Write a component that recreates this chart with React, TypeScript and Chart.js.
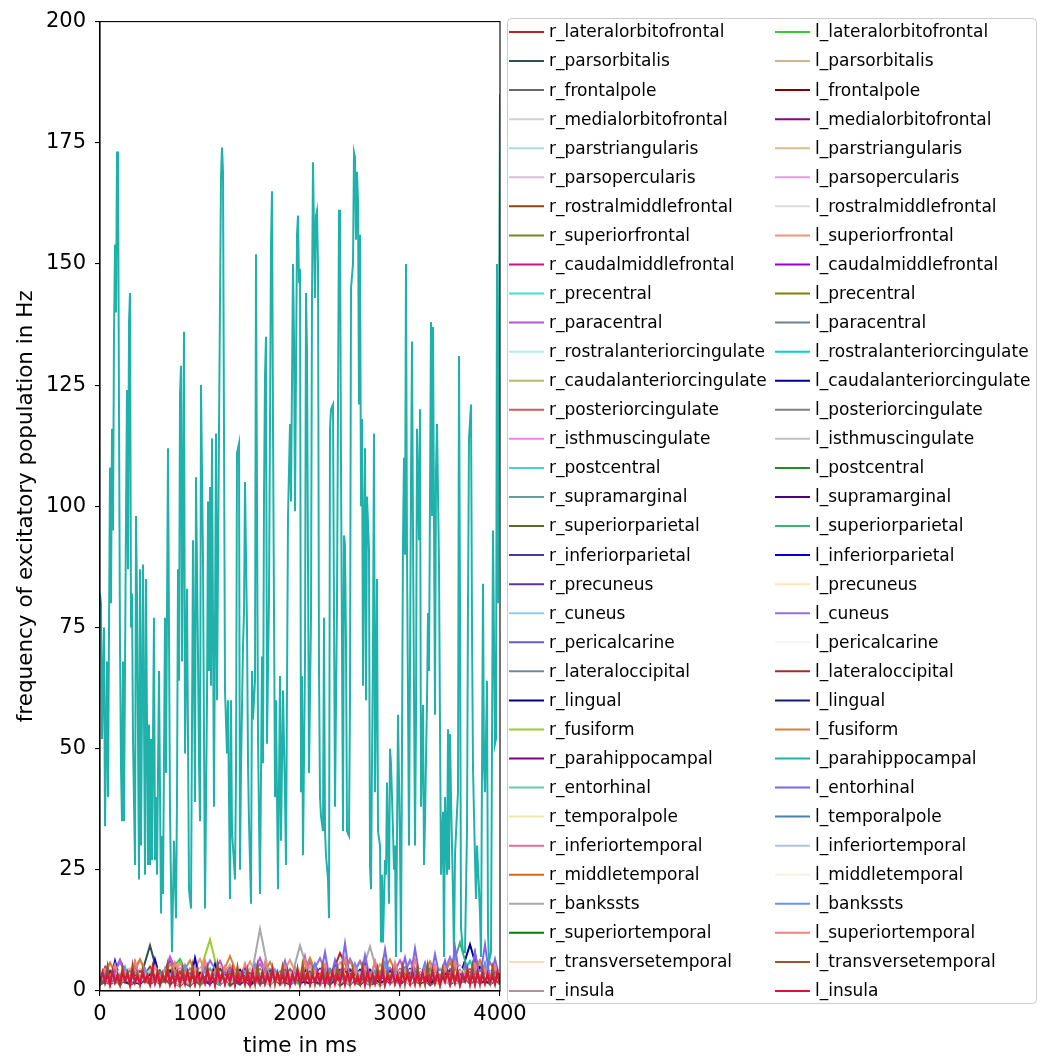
import React, { useEffect, useRef } from "react";
import { Chart, registerables } from "chart.js";

Chart.register(...registerables);

// ---------------- data ----------------
const DURATION_MS = 4000;
const X_TICKS = [0, 1000, 2000, 3000, 4000];
const Y_TICKS = [0, 25, 50, 75, 100, 125, 150, 175, 200];

const R_NAMES = [
  "r_lateralorbitofrontal", "r_parsorbitalis", "r_frontalpole", "r_medialorbitofrontal", "r_parstriangularis",
  "r_parsopercularis", "r_rostralmiddlefrontal", "r_superiorfrontal", "r_caudalmiddlefrontal", "r_precentral",
  "r_paracentral", "r_rostralanteriorcingulate", "r_caudalanteriorcingulate", "r_posteriorcingulate", "r_isthmuscingulate",
  "r_postcentral", "r_supramarginal", "r_superiorparietal", "r_inferiorparietal", "r_precuneus",
  "r_cuneus", "r_pericalcarine", "r_lateraloccipital", "r_lingual", "r_fusiform",
  "r_parahippocampal", "r_entorhinal", "r_temporalpole", "r_inferiortemporal", "r_middletemporal",
  "r_bankssts", "r_superiortemporal", "r_transversetemporal", "r_insula",
];
const L_NAMES = R_NAMES.map((n) => "l_" + n.slice(2));

const R_COLORS = [
  "#b22222", "#2f4f4f", "#696969", "#d3d3d3", "#add8e6", "#d8bfd8", "#8b4513", "#6b8e23", "#c71585", "#40e0d0",
  "#ba55d3", "#afeeee", "#bdb76b", "#cd5c5c", "#ee82ee", "#48d1cc", "#5f9ea0", "#556b2f", "#483d8b", "#663399",
  "#87cefa", "#6a5acd", "#778899", "#000080", "#9acd32", "#800080", "#66cdaa", "#eee8aa", "#db7093", "#d2691e",
  "#a9a9a9", "#008000", "#f5deb3", "#bc8f8f",
];
const L_COLORS = [
  "#32cd32", "#d2b48c", "#800000", "#8b008b", "#deb887", "#dda0dd", "#dcdcdc", "#e9967a", "#9400d3", "#808000",
  "#708090", "#00ced1", "#00008b", "#808080", "#c0c0c0", "#228b22", "#4b0082", "#3cb371", "#0000cd", "#ffe4b5",
  "#9370db", "#f5f5f5", "#a52a2a", "#191970", "#cd853f", "#20b2aa", "#7b68ee", "#4682b4", "#b0c4de", "#f5f5dc",
  "#6495ed", "#f08080", "#a0522d", "#dc143c",
];

// right hemisphere (Hz, evenly sampled over 0..4000 ms)
const r_lateralorbitofrontal = [2.1,3.4,1.2,4.0,2.6,1.5,3.8,2.2,1.0,3.1,2.7,1.4,4.2,2.0,3.3,1.1,2.9,3.6,1.8,2.4,4.1,1.6,3.0,2.5,7.8,3.7,2.2,1.3,1.9,3.2,2.8,1.4,3.5,2.1,4.4,1.7,2.6,3.9,1.5,2.8,2.0];
const r_parsorbitalis = [1.5,2.8,3.9,1.2,2.4,9.4,1.8,3.1,2.2,1.0,3.6,2.5,1.4,2.9,3.3,1.6,2.0,4.1,1.3,2.7,3.0,1.9,2.3,3.8,1.1,2.6,3.4,1.7,2.1,4.5,1.5,2.9,3.2,1.2,2.5,3.7,1.8,2.2,3.0,1.4,2.6];
const r_frontalpole = [3.0,1.4,2.5,3.6,1.9,2.2,4.0,1.3,2.8,3.3,1.6,2.4,3.9,1.0,2.7,3.1,1.8,2.3,3.5,1.2,2.9,4.2,1.5,2.0,3.4,1.7,2.6,3.8,1.1,2.4,3.0,1.9,2.2,4.3,1.4,2.8,3.2,1.6,2.5,3.6,1.3];
const r_medialorbitofrontal = [2.4,3.9,1.6,2.7,4.6,1.3,3.1,2.0,4.4,1.8,2.6,3.5,1.2,3.0,4.8,1.5,2.3,3.7,1.9,2.8,4.1,1.4,3.3,2.1,4.5,1.7,2.9,3.6,1.2,2.5,4.0,1.8,3.2,2.2,4.7,1.5,2.7,3.4,1.9,3.8,2.2];
const r_parstriangularis = [1.8,2.6,4.3,1.5,3.2,2.4,1.9,3.8,2.9,1.4,4.1,2.2,3.0,1.7,3.6,2.5,1.3,4.4,2.0,3.1,1.6,3.9,2.7,1.2,3.4,2.3,4.0,1.8,2.9,3.5,1.5,2.6,4.2,1.9,3.0,2.4,1.4,3.7,2.8,1.6,3.3];
const r_parsopercularis = [3.3,1.7,2.9,4.0,1.4,2.5,3.6,2.0,1.2,3.9,2.7,1.8,4.3,2.2,3.1,1.5,2.8,3.7,1.3,2.4,4.1,1.9,3.0,2.6,1.6,3.5,2.1,4.4,1.7,2.9,3.2,1.4,2.3,3.8,2.0,1.5,4.0,2.7,3.3,1.8,2.5];
const r_rostralmiddlefrontal = [2.6,4.2,1.9,3.4,2.1,5.0,1.6,3.0,4.6,2.3,1.5,3.8,2.7,4.9,1.8,3.2,2.4,4.3,1.4,3.6,2.9,5.2,1.7,3.1,2.2,4.5,1.9,3.7,2.5,4.1,1.6,3.3,2.8,4.7,1.5,3.0,2.3,4.4,2.0,3.5,2.6];
const r_superiorfrontal = [1.9,3.1,2.4,1.3,3.7,2.0,4.2,1.6,2.8,3.4,1.2,2.6,3.9,1.8,2.3,4.5,1.5,3.0,2.2,3.6,1.4,2.7,4.0,1.9,3.2,2.1,1.3,3.8,2.5,4.3,1.7,2.9,3.5,1.4,2.4,3.1,5.2,1.8,2.6,3.3,2.0];
const r_caudalmiddlefrontal = [2.2,1.5,3.6,2.8,4.4,1.7,2.5,3.2,1.3,4.0,2.1,3.5,1.9,2.7,4.6,1.4,3.0,2.4,3.9,1.6,2.2,4.1,1.8,3.4,2.6,1.2,3.7,2.3,4.2,1.5,3.1,2.8,1.7,3.9,2.0,4.5,1.6,3.3,2.4,1.9,3.0];
const r_precentral = [1.4,2.8,3.5,1.9,2.3,4.0,1.6,3.1,2.5,1.2,3.8,2.0,2.9,4.3,1.5,2.6,3.3,1.8,4.1,2.2,1.3,3.6,2.7,1.9,4.4,2.1,3.0,1.6,3.4,2.5,1.4,3.9,2.3,1.7,3.2,2.8,4.2,1.5,2.6,3.7,2.0];
const r_paracentral = [3.1,2.0,6.5,1.6,2.9,3.4,1.3,7.1,2.4,3.7,1.8,2.6,6.2,1.5,3.3,2.1,6.8,1.9,2.7,3.5,1.4,6.0,2.3,3.1,1.7,6.6,2.5,1.2,3.8,2.2,6.3,1.6,3.0,2.8,1.5,6.1,2.0,3.6,1.8,2.9,3.2];
const r_rostralanteriorcingulate = [2.5,3.8,1.6,2.9,4.1,2.2,1.4,3.3,2.7,4.4,1.9,3.0,2.1,1.5,3.9,2.6,4.2,1.8,3.1,2.4,1.3,3.7,2.8,4.5,1.7,2.3,3.4,2.0,4.0,1.5,2.9,3.6,1.9,2.5,4.3,1.4,3.2,2.2,3.8,1.6,2.7];
const r_caudalanteriorcingulate = [1.7,2.4,3.2,4.6,1.5,2.8,3.9,1.9,2.3,3.5,1.2,4.2,2.6,3.0,1.6,2.1,4.4,2.9,1.4,3.6,2.5,1.8,3.3,4.0,2.0,1.5,3.8,2.7,1.3,4.1,2.2,3.4,1.9,2.6,3.1,1.6,4.3,2.4,1.8,3.5,2.1];
const r_posteriorcingulate = [3.4,1.9,2.7,1.4,3.8,2.5,4.2,1.7,3.0,2.2,4.6,1.5,2.9,3.6,1.8,2.4,3.9,1.3,3.2,2.7,4.4,2.0,1.6,3.5,2.3,3.9,1.4,2.8,3.3,1.9,4.1,2.4,1.5,3.7,2.6,3.0,1.7,4.5,2.1,2.9,3.4];
const r_isthmuscingulate = [2.0,3.3,1.5,4.4,2.6,1.9,3.1,2.4,6.0,1.7,3.6,2.2,1.4,4.0,2.8,3.4,1.6,2.5,4.3,1.9,3.0,2.2,1.3,3.8,2.7,4.1,1.8,2.4,3.5,1.5,2.9,4.2,2.0,3.2,1.7,2.6,3.9,1.4,3.1,2.3,1.9];
const r_postcentral = [1.6,2.9,3.7,2.1,1.4,3.3,2.6,4.0,1.8,2.4,3.1,1.5,4.3,2.7,1.9,3.5,2.2,1.3,3.9,2.8,1.7,3.2,4.2,2.0,2.5,1.4,3.6,2.9,1.8,4.1,2.3,3.0,1.6,2.6,3.8,1.9,2.2,3.4,1.5,2.8,3.6];
const r_supramarginal = [2.9,1.8,3.5,2.3,4.1,1.6,2.7,3.3,1.4,2.5,3.9,2.1,1.7,3.6,2.8,4.4,1.5,2.2,3.1,1.9,3.7,2.6,1.3,4.0,2.4,3.2,1.8,2.9,3.8,1.6,2.3,4.3,2.0,2.7,1.5,3.4,2.5,4.1,1.7,3.0,2.2];
const r_superiorparietal = [1.3,2.5,3.8,1.7,3.0,2.2,4.3,1.5,2.8,3.5,1.9,2.4,1.2,3.9,2.6,3.2,1.6,4.0,2.1,2.9,1.4,3.6,2.3,3.1,1.8,4.2,2.5,1.6,3.3,2.0,3.7,1.4,2.7,3.9,1.8,2.2,3.4,1.5,2.9,3.8,2.1];
const r_inferiorparietal = [2.4,3.6,1.8,2.9,1.5,4.0,2.7,1.9,3.4,2.2,4.5,1.6,3.0,2.5,1.3,3.8,2.1,3.3,1.7,4.2,2.6,1.9,3.5,2.3,1.5,4.1,2.8,3.0,1.6,2.4,3.7,1.9,4.4,2.2,3.1,1.4,2.6,3.9,2.0,1.7,3.2];
const r_precuneus = [3.0,2.1,1.6,3.7,2.5,4.2,1.8,2.9,3.5,1.4,2.3,4.0,2.7,1.9,3.3,2.4,1.5,4.4,2.2,3.1,1.7,3.6,2.6,1.3,3.9,2.0,2.8,4.1,1.6,3.4,2.3,1.9,3.8,2.5,1.4,3.2,4.3,2.1,2.7,1.8,3.5];
const r_cuneus = [1.9,3.2,2.6,4.5,1.5,2.8,3.6,2.1,1.7,4.1,2.4,3.0,1.4,3.8,2.2,4.6,1.8,2.5,3.4,1.6,2.9,4.3,2.0,3.1,1.5,3.7,2.7,1.9,4.2,2.3,3.3,1.6,2.8,4.0,2.1,1.7,3.5,2.6,4.4,1.8,2.4];
const r_pericalcarine = [2.7,1.6,3.9,2.2,3.3,1.4,2.8,4.3,1.9,2.5,3.6,1.7,4.1,2.3,3.0,1.5,2.6,3.8,2.0,4.5,1.8,2.4,3.2,1.6,4.0,2.9,1.3,3.5,2.2,4.7,1.9,3.1,2.5,1.5,3.9,2.8,4.2,1.7,3.3,2.4,2.0];
const r_lateraloccipital = [1.5,2.6,3.3,1.9,4.0,2.4,1.7,3.6,2.9,1.3,3.1,2.2,4.4,1.8,2.7,3.5,1.5,2.3,3.9,2.0,1.6,3.4,2.8,4.1,1.9,2.5,3.0,1.4,3.7,2.6,4.3,1.7,2.2,3.5,1.9,2.9,3.8,1.6,2.4,3.2,1.8];
const r_lingual = [2.3,3.7,1.9,2.6,4.2,1.5,3.1,2.4,1.8,3.9,2.7,4.6,1.6,2.9,3.3,1.4,2.5,4.0,2.1,3.5,1.7,2.8,3.9,1.5,3.2,2.3,4.4,1.8,2.6,3.6,1.4,3.0,2.2,4.1,1.9,2.7,3.4,1.6,5.0,2.5,3.1];
const r_fusiform = [1.8,2.7,3.4,1.5,2.9,4.1,2.2,1.6,3.6,2.4,4.0,10.6,2.0,3.1,1.7,2.6,3.8,1.9,2.4,3.3,1.5,4.2,2.8,1.8,3.5,2.1,2.9,4.4,1.6,3.0,2.5,1.9,3.7,2.3,1.4,3.2,2.7,4.0,1.8,2.6,3.3];
const r_parahippocampal = [2.6,1.7,3.5,2.2,4.3,1.9,2.8,6.0,1.6,3.2,2.4,1.5,3.9,2.7,4.2,1.8,2.3,3.4,1.5,2.9,4.0,2.1,3.3,1.7,2.5,3.8,1.4,2.9,3.6,2.0,4.5,1.6,2.7,3.1,1.9,2.4,3.9,1.5,3.0,2.6,1.8];
const r_entorhinal = [3.2,2.0,1.5,3.7,2.6,3.1,1.8,4.2,2.4,1.6,3.4,2.9,1.3,4.0,2.2,3.6,1.7,2.7,3.9,1.5,2.5,4.4,2.0,3.0,1.8,3.5,2.6,1.4,4.1,2.3,3.2,1.9,2.8,3.6,1.6,4.3,2.1,2.9,1.7,3.4,2.5];
const r_temporalpole = [1.6,3.0,4.4,2.3,1.9,3.5,2.6,5.2,1.4,2.8,3.3,2.0,4.1,1.7,3.6,2.5,1.5,3.9,2.2,4.6,1.8,2.7,3.2,1.6,4.0,2.4,3.1,1.9,4.3,2.2,1.5,3.7,2.8,1.8,4.5,2.1,3.4,1.7,2.9,3.8,2.0];
const r_inferiortemporal = [2.9,2.2,3.6,1.7,4.3,2.5,1.9,3.2,4.6,1.5,2.7,3.8,2.1,3.4,1.6,4.4,2.4,2.9,1.8,3.9,2.6,1.4,4.2,3.0,2.3,1.9,3.7,2.7,4.5,1.6,3.1,2.2,4.0,1.8,2.6,3.5,1.5,4.3,2.4,3.0,2.1];
const r_middletemporal = [2.0,3.5,2.7,4.4,1.6,3.0,2.3,3.9,1.8,4.7,2.5,1.9,3.4,2.6,4.1,1.5,3.2,2.8,1.7,4.5,2.2,3.7,1.9,2.9,4.2,1.6,3.3,2.4,4.8,1.8,2.7,3.6,2.1,4.0,1.5,3.1,2.6,4.3,1.9,3.5,2.4];
const r_bankssts = [2.2,3.4,1.8,4.0,2.5,1.6,3.7,2.9,1.4,4.3,2.1,3.2,1.9,2.6,3.8,1.5,12.8,2.4,3.1,1.7,9.4,2.8,3.6,2.0,1.5,4.2,2.6,9.2,1.8,3.3,2.4,3.9,1.6,2.9,4.5,2.1,3.0,1.7,3.6,2.5,1.9];
const r_superiortemporal = [1.4,2.3,3.1,1.8,2.6,3.7,1.5,2.9,2.0,3.4,1.6,2.5,3.9,1.3,2.8,2.2,3.6,1.7,2.4,3.2,1.5,2.9,4.0,1.9,2.1,3.5,1.4,2.7,3.3,1.8,2.5,3.8,1.6,2.3,3.0,1.5,2.8,3.6,2.0,1.7,2.6];
const r_transversetemporal = [2.8,1.9,3.6,2.4,4.5,1.7,3.0,2.6,4.1,1.5,3.4,2.1,3.8,1.8,2.9,4.6,2.2,1.6,3.5,2.7,4.3,1.9,3.1,2.4,1.6,4.0,2.8,3.3,1.7,4.4,2.3,1.9,3.7,2.6,4.2,1.8,3.0,2.5,1.5,3.9,2.7];
const r_insula = [1.7,2.8,3.9,2.2,1.5,3.3,2.6,4.4,1.9,2.4,3.6,1.6,4.1,2.9,2.1,3.5,1.8,4.6,2.5,1.4,3.2,2.7,4.0,1.9,3.4,2.2,1.7,3.8,2.6,4.3,1.5,3.0,2.4,3.7,1.9,2.8,4.2,1.6,3.1,2.3,3.5];

// left hemisphere
const l_lateralorbitofrontal = [1.5,2.4,3.6,1.9,2.8,3.2,1.6,4.1,6.6,2.2,3.0,1.7,2.5,3.9,1.4,2.7,3.4,1.8,2.3,4.2,1.6,2.9,3.5,2.0,1.5,3.8,2.6,1.9,3.1,2.4,4.0,1.7,2.8,3.3,1.5,2.5,3.7,2.1,1.8,3.0,2.4];
const l_parsorbitalis = [3.1,1.8,2.6,4.3,2.2,3.5,1.6,2.9,3.8,1.9,2.4,4.6,1.7,3.2,2.5,4.0,1.5,2.8,3.6,2.1,4.4,1.8,3.0,2.3,3.9,1.6,2.7,4.2,2.0,3.3,1.7,2.5,4.5,1.9,3.1,2.4,3.7,1.5,2.9,4.1,2.2];
const l_frontalpole = [2.1,3.3,1.6,2.7,3.9,2.0,4.4,1.7,2.5,3.1,1.4,3.7,2.3,2.9,4.1,1.8,2.4,3.5,1.5,3.0,2.6,4.2,1.9,2.2,3.6,1.6,2.8,3.3,1.5,4.0,2.1,2.7,3.8,1.9,2.4,3.2,1.6,4.3,2.2,2.9,1.8];
const l_medialorbitofrontal = [2.7,1.6,3.8,2.3,3.1,1.8,4.5,2.5,1.5,3.4,2.9,1.9,4.0,2.2,3.6,1.6,2.6,3.9,2.0,1.4,3.3,2.8,4.6,1.8,2.4,3.5,1.7,3.0,2.2,4.2,1.5,2.9,3.6,1.9,2.5,4.1,2.0,3.2,1.6,2.7,3.8];
const l_parstriangularis = [1.9,3.0,2.4,4.6,1.7,2.8,3.5,2.1,4.1,1.5,3.2,2.6,5.0,1.8,2.9,3.7,2.2,1.6,4.3,2.5,3.1,1.9,3.8,2.4,1.5,4.0,2.7,3.4,1.8,2.3,4.4,2.0,3.0,1.6,3.6,2.8,1.9,4.2,2.5,3.3,2.0];
const l_parsopercularis = [2.4,1.7,3.2,2.8,4.0,1.9,2.5,3.6,1.5,4.3,2.2,3.0,1.8,2.7,3.9,1.6,4.5,2.3,2.9,1.9,3.4,2.6,1.5,4.1,2.1,3.7,1.8,2.8,3.3,1.6,2.4,4.6,2.0,3.1,1.7,3.8,2.5,1.9,4.0,2.3,2.9];
const l_rostralmiddlefrontal = [3.5,2.1,4.0,1.7,2.9,3.3,1.9,2.4,4.4,1.6,3.1,2.7,1.8,3.9,2.3,4.2,1.5,2.8,3.6,2.0,1.7,3.4,2.5,4.5,1.9,2.6,3.2,1.6,4.0,2.2,3.7,1.8,2.9,3.5,1.5,2.4,4.3,2.1,3.0,1.9,2.6];
const l_superiorfrontal = [2.2,5.6,2.8,1.9,6.3,2.4,3.1,1.6,5.8,2.9,6.6,1.8,2.5,5.4,2.1,6.1,1.7,3.0,2.6,6.4,1.9,5.3,2.3,1.6,5.9,2.8,6.2,2.0,5.5,1.8,2.7,6.0,2.3,5.2,1.6,6.5,2.5,2.9,5.7,1.9,3.1];
const l_caudalmiddlefrontal = [1.6,2.9,3.4,2.0,1.5,3.7,2.4,4.2,1.8,3.1,2.6,1.4,3.9,2.3,4.4,1.7,2.8,3.3,1.9,2.5,4.0,1.6,3.2,2.7,1.5,4.3,2.1,3.0,1.8,3.6,2.4,4.1,1.7,2.9,3.5,2.2,1.6,3.8,2.6,4.0,2.1];
const l_precentral = [2.5,1.8,3.0,3.9,2.2,1.6,3.4,2.7,4.1,1.9,2.4,3.6,1.5,2.9,4.3,2.1,3.2,1.7,2.6,3.8,2.0,4.5,1.8,3.1,2.3,1.6,3.7,2.8,4.0,1.9,2.5,3.3,1.5,4.2,2.6,3.0,1.8,2.7,3.9,2.2,1.7];
const l_paracentral = [3.0,2.3,1.7,4.1,2.8,3.5,1.9,2.4,3.8,1.6,4.4,2.2,2.9,3.6,1.5,2.6,4.0,2.0,3.3,1.8,2.5,3.9,1.6,4.6,2.3,3.1,1.9,2.7,3.5,1.5,4.2,2.4,2.9,1.7,3.8,2.1,3.4,1.6,2.8,4.1,2.4];
const l_rostralanteriorcingulate = [1.8,2.6,3.3,1.5,4.0,2.2,2.8,3.7,1.6,2.4,3.1,4.5,1.9,2.7,3.5,1.7,2.3,4.2,2.0,3.0,1.5,3.6,2.5,1.8,4.1,2.9,2.2,3.4,1.6,2.7,3.9,1.9,3.2,2.4,4.4,1.7,2.6,6.2,2.1,3.0,2.3];
const l_caudalanteriorcingulate = [2.3,3.9,1.7,2.8,3.4,2.0,4.6,1.6,3.1,2.5,1.9,3.7,2.4,4.2,1.5,2.9,3.3,1.8,2.6,4.0,2.1,1.6,3.5,2.8,4.3,1.9,2.4,3.1,1.7,3.8,2.2,4.5,1.6,2.7,3.6,2.0,3.0,9.6,2.4,1.8,3.3];
const l_posteriorcingulate = [1.7,3.1,2.5,3.8,1.9,2.6,4.3,2.1,1.5,3.4,2.8,4.0,1.8,2.3,3.6,1.6,2.9,3.9,2.2,1.7,4.4,2.5,3.2,1.9,2.7,3.5,1.6,4.1,2.3,3.0,1.8,2.6,4.2,1.9,3.3,2.4,1.5,3.8,2.9,2.1,3.4];
const l_isthmuscingulate = [2.9,2.0,3.7,1.6,2.5,4.4,1.9,3.0,2.6,1.7,4.1,2.3,3.5,1.8,2.8,4.6,2.2,1.5,3.3,2.7,4.0,1.9,2.4,3.8,1.6,3.1,2.5,4.3,2.0,1.7,3.6,2.9,1.8,4.2,2.3,3.4,1.6,2.8,3.9,2.1,2.6];
const l_postcentral = [1.5,2.3,3.0,1.8,3.6,2.4,1.6,3.2,2.7,4.0,1.9,2.5,3.4,1.7,2.9,3.8,1.5,2.2,3.5,2.8,1.8,4.1,2.4,3.0,1.6,2.6,3.7,2.0,1.5,3.3,2.7,4.2,1.9,2.4,3.1,1.7,3.9,2.5,2.0,3.4,2.2];
const l_supramarginal = [2.6,3.8,2.0,1.6,3.3,2.7,4.3,1.8,2.4,3.6,1.5,3.0,4.5,2.2,1.9,3.7,2.6,4.1,1.7,2.9,3.4,2.1,1.6,4.0,2.5,3.2,1.8,4.4,2.3,2.8,1.6,3.9,2.4,3.5,1.9,4.2,2.2,2.7,3.6,1.8,2.9];
const l_superiorparietal = [2.0,3.2,1.6,2.8,4.0,2.3,3.5,1.8,2.6,4.3,1.5,3.0,2.4,3.9,1.9,2.7,4.5,1.7,3.3,2.2,1.6,3.8,2.9,4.1,2.0,2.5,3.6,1.8,4.2,2.3,3.1,1.6,2.8,4.4,2.1,3.4,10.0,2.6,1.9,3.7,2.4];
const l_inferiorparietal = [2.2,4.8,1.6,6.2,2.4,3.5,1.8,5.9,2.1,4.4,1.5,6.5,2.7,3.8,1.9,5.2,2.3,4.6,1.6,6.8,2.5,3.2,1.7,5.5,2.0,4.1,1.8,3.6,2.6,5.0,1.5,3.9,2.2,4.3,1.9,3.4,2.4,5.1,1.7,3.8,2.1,4.5,1.6,3.1,2.5,4.9,1.8,3.6,2.0,4.2,1.5,3.3,2.3,5.4,1.9,3.7,2.6,4.0,1.7,3.2,2.2,4.7,1.6,3.9,2.4,5.2,1.8,3.5,2.0,4.4,1.5,6.0,2.3,3.3,1.9,7.8,2.1,4.6,1.7,3.8,2.5];
const l_precuneus = [2.4,1.7,3.5,2.9,4.2,1.9,2.6,3.3,1.5,4.0,2.2,3.7,1.8,2.7,4.4,2.0,3.1,1.6,3.8,2.5,4.6,1.9,2.8,3.4,1.7,4.1,2.3,3.0,1.5,3.6,2.6,4.3,1.8,2.9,3.9,2.2,1.6,3.5,2.7,4.0,2.1];
const l_cuneus = [3.1,2.2,6.0,1.7,3.5,2.6,1.9,5.8,2.4,3.0,1.6,6.3,2.8,4.5,1.8,2.5,5.6,2.0,4.2,1.5,3.3,2.7,6.8,1.9,3.1,2.3,6.1,1.7,3.7,2.6,1.5,6.4,2.9,3.4,1.8,7.0,2.2,3.0,1.6,5.9,2.5];
const l_pericalcarine = [2.0,3.0,2.5,3.6,1.8,2.9,4.0,2.2,1.6,3.4,2.7,3.9,1.9,2.4,3.2,1.7,4.1,2.6,2.1,3.5,1.8,2.9,3.7,2.3,1.6,4.2,2.5,3.0,1.9,3.3,2.7,1.6,3.8,2.4,3.1,1.8,4.0,2.6,2.2,3.5,2.0];
const l_lateraloccipital = [2.5,1.8,3.4,2.7,4.1,2.0,3.0,1.6,3.7,2.3,4.4,1.9,2.8,3.5,1.7,4.0,2.4,3.1,1.5,3.9,2.6,4.3,1.8,3.2,2.2,3.5,1.9,2.9,3.6,1.6,4.2,2.5,3.0,1.8,3.8,2.4,4.5,1.7,3.3,2.6,2.0];
const l_lingual = [1.8,2.9,3.6,2.1,1.5,3.3,2.6,4.2,1.9,2.4,3.8,1.7,3.0,2.5,4.5,1.6,2.8,3.4,2.0,4.0,1.8,2.3,3.7,1.5,2.9,4.3,2.2,3.1,1.7,2.6,3.9,2.0,4.4,1.6,2.7,3.5,1.9,2.4,3.2,1.8,2.9];
const l_fusiform = [2.6,5.9,1.9,3.2,6.6,2.2,1.7,5.6,2.8,6.3,1.6,3.0,2.4,7.2,1.9,3.4,2.1,6.0,1.5,3.7,2.6,6.8,1.8,3.1,2.5,6.2,1.6,3.5,2.9,6.5,2.0,3.3,1.7,6.1,2.4,5.8,1.9,3.0,6.4,2.2,3.6];
// l_parahippocampal: [time ms, Hz] samples
const l_parahippocampal: [number, number][] = [
  [0,82],[10,80],[20,52],[40,75],[50,34],[70,68],[80,40],[100,108],[110,80],[120,116],[130,95],[140,135],[150,154],[160,140],[170,173],[180,173],[190,120],[200,71],[210,46],[220,35],[230,68],[240,35],[260,98],[270,124],[280,87],[290,138],[300,144],[310,75],[320,82],[330,52],[350,26],[360,98],[370,81],[390,23],[400,87],[410,30],[430,88],[440,56],[450,24],[460,85],[480,26],[490,55],
  [500,26],[510,52],[520,27],[540,77],[550,27],[560,40],[570,24],[590,66],[610,16],[620,32],[630,20],[650,77],[660,45],[680,112],[700,37],[720,8],[740,31],[760,15],[770,40],[780,87],[790,64],[800,123],[810,129],[820,68],[840,136],[850,49],[870,83],[890,21],[910,17],[930,93],[950,39],[960,106],[980,69],[990,47],
  [1000,35],[1010,125],[1030,89],[1050,17],[1070,60],[1080,101],[1090,66],[1100,104],[1110,63],[1120,114],[1140,38],[1160,115],[1170,60],[1190,116],[1210,168],[1220,174],[1230,169],[1250,62],[1270,49],[1280,60],[1300,19],[1310,60],[1320,33],[1350,23],[1360,45],[1370,111],[1390,113],[1400,25],[1410,46],[1430,71],[1440,78],[1450,105],[1470,75],[1480,47],[1490,35],
  [1510,18],[1520,66],[1530,56],[1550,64],[1560,152],[1580,52],[1600,20],[1620,69],[1630,47],[1640,102],[1650,127],[1660,135],[1670,51],[1690,81],[1710,154],[1720,165],[1730,117],[1750,40],[1760,60],[1780,21],[1800,65],[1810,31],[1830,62],[1850,40],[1860,26],[1880,98],[1900,117],[1910,101],[1930,150],[1940,135],[1950,99],[1970,156],[1980,160],[1990,146],
  [2000,149],[2010,41],[2020,65],[2030,28],[2050,68],[2060,144],[2070,132],[2090,45],[2110,77],[2120,143],[2130,171],[2150,143],[2160,160],[2170,161],[2180,150],[2190,66],[2200,40],[2210,36],[2230,33],[2240,77],[2250,33],[2260,28],[2280,23],[2290,15],[2300,116],[2310,120],[2330,121],[2340,78],[2350,38],[2370,80],[2390,161],[2400,161],[2410,108],[2430,33],[2440,94],[2450,92],[2460,72],[2470,33],[2490,32],
  [2500,60],[2510,145],[2530,150],[2540,173],[2550,172],[2560,155],[2570,169],[2580,163],[2590,121],[2600,156],[2610,100],[2620,118],[2630,63],[2640,93],[2650,112],[2660,60],[2670,102],[2690,91],[2700,26],[2710,21],[2730,72],[2740,115],[2750,41],[2770,85],[2780,33],[2800,30],[2810,10],[2820,24],[2830,10],[2850,27],[2860,24],[2870,43],[2890,18],[2900,50],[2910,47],[2930,33],[2940,25],[2950,30],[2960,7],[2980,57],
  [3000,30],[3010,8],[3030,93],[3040,110],[3050,90],[3060,150],[3070,90],[3090,30],[3110,105],[3120,134],[3130,94],[3150,30],[3160,56],[3170,116],[3190,93],[3200,120],[3210,38],[3230,59],[3240,26],[3250,35],[3270,60],[3280,78],[3290,66],[3310,138],[3320,98],[3330,137],[3350,57],[3360,107],[3370,117],[3390,88],[3400,54],[3410,24],[3430,37],[3440,7],[3450,40],[3470,24],[3480,54],[3490,25],
  [3500,53],[3510,40],[3530,20],[3540,7],[3550,28],[3570,37],[3580,41],[3590,131],[3600,80],[3610,13],[3630,8],[3650,8],[3670,33],[3680,80],[3690,114],[3710,121],[3720,75],[3730,46],[3750,27],[3760,19],[3770,30],[3790,21],[3800,16],[3810,7],[3830,84],[3840,46],[3850,41],[3870,64],[3880,12],[3890,6],[3910,8],[3920,51],[3930,95],[3950,51],[3960,52],[3970,150],[3980,80],[4000,185],
];
const l_entorhinal = [2.0,3.4,1.7,4.2,2.3,3.0,1.6,3.8,2.5,4.5,1.9,3.2,2.2,4.0,1.5,3.6,2.7,4.3,1.8,3.1,2.4,5.0,1.6,3.5,2.1,4.6,1.9,3.3,2.6,4.1,1.7,3.9,2.2,5.3,1.8,3.0,2.4,6.2,1.9,3.7,2.3,7.1,2.0,5.6,2.6,8.0,1.9,6.4,2.8,9.8,2.2,5.1,1.8,7.4,2.5,6.0,2.1,8.6,1.7,5.4,2.9,6.9,2.0,8.8,2.4,5.8,1.9,7.6,2.6,6.3,1.8,9.0,2.3,5.5,2.0,7.9,2.7,9.6,2.1,6.6,2.4];
const l_temporalpole = [1.9,2.7,3.5,1.6,3.1,2.4,4.0,2.0,2.8,3.7,1.5,2.5,4.2,1.8,3.3,2.6,1.7,3.9,2.2,4.4,1.9,2.9,3.4,1.6,4.1,2.3,3.0,1.8,3.6,2.5,4.3,1.7,2.8,3.2,2.0,3.8,1.6,2.6,4.0,2.2,3.1];
const l_inferiortemporal = [2.8,2.0,3.8,2.5,1.7,4.1,2.9,3.3,1.8,2.4,4.4,2.1,3.6,1.6,3.0,4.2,2.3,2.7,1.9,3.9,2.5,4.6,1.7,3.2,2.6,1.5,4.0,2.8,3.5,2.0,4.3,1.8,2.9,3.7,2.2,1.6,4.1,2.7,3.4,1.9,2.5];
const l_middletemporal = [3.3,2.1,4.3,1.8,3.6,2.7,4.9,2.0,3.1,1.6,4.5,2.4,3.8,1.9,5.1,2.2,3.4,1.7,4.7,2.6,3.0,1.9,4.2,2.3,5.3,1.8,3.5,2.5,4.8,2.0,3.2,1.6,4.4,2.7,3.9,2.1,5.0,1.8,3.7,2.4,4.1];
const l_bankssts = [2.5,4.1,1.9,3.4,2.2,5.0,1.7,3.8,2.6,4.5,2.0,3.2,1.6,4.7,2.3,3.6,1.8,5.3,2.4,3.0,1.9,4.3,2.7,3.5,1.5,4.9,2.1,3.7,2.5,4.0,1.8,5.5,2.2,3.3,1.7,4.4,2.6,3.9,2.0,4.8,1.9,3.6,2.4,5.1,1.7,3.4,2.3,4.6,2.0,3.1,1.6,5.6,2.5,3.8,1.9,4.2,2.2,6.0,1.8,3.5,2.4,4.7,2.0,3.9,1.7,5.2,2.6,3.3,1.9,4.5,2.1,6.3,2.4,3.7,1.8,4.9,2.2,5.8,1.9,3.6,2.5];
const l_superiortemporal = [2.2,4.6,2.9,5.5,1.9,4.0,2.6,6.1,2.4,3.7,1.8,5.2,2.7,4.4,2.0,5.8,2.5,3.9,1.7,4.8,2.3,6.3,2.8,4.1,1.9,5.0,2.6,3.6,2.1,5.7,2.4,4.3,1.8,6.0,2.7,3.8,2.0,5.3,2.5,4.5,1.9,6.5,2.3,4.2,2.8,5.6,2.0,3.9,2.6,6.8,1.9,4.7,2.4,5.1,2.2,6.2,2.7,4.0,1.8,5.9,2.5,4.4,2.1,6.6,2.3,3.8,2.9,5.4,1.9,4.9,2.6,6.0,2.2,4.1,2.0,5.7,2.4,4.6,1.8,5.2,2.3];
const l_transversetemporal = [
  1.2,3.8,2.0,5.1,1.5,4.2,1.8,3.5,1.3,4.8,2.2,3.9,1.4,5.3,1.9,3.6,1.2,4.5,2.4,3.2,1.6,5.0,1.8,4.1,1.3,3.7,2.1,5.4,1.5,4.0,
  1.9,3.3,1.2,4.7,2.3,3.8,1.4,5.2,1.7,4.3,1.3,3.5,2.0,4.9,1.6,3.9,1.2,5.5,2.2,4.1,1.5,3.4,1.8,4.6,1.3,5.0,2.1,3.7,1.4,4.4,
  1.7,3.1,1.2,5.3,2.0,4.0,1.5,3.6,1.9,4.8,1.3,3.9,2.3,5.1,1.6,4.2,1.2,3.4,1.8,4.7,1.4,5.4,2.1,3.8,1.5,4.3,1.3,3.5,2.0,5.0,
  1.7,4.1,1.2,3.7,2.2,4.9,1.4,5.2,1.8,3.9,1.3,4.5,2.0,3.3,1.5,5.1,1.9,4.0,1.2,3.6,2.4,4.8,1.6,5.5,1.3,3.8,2.1,4.4,1.5,3.2,
  1.8,5.0,1.3,4.2,2.2,3.7,1.4,4.9,1.7,3.4,1.2,5.3,2.0,4.1,1.6,3.8,1.3,4.6,2.3,3.5,1.5,5.2,1.9,4.0,1.2,3.6,2.1,4.7,1.4,5.0,
  1.7,3.9,1.3,4.4,2.0,3.1,1.5,4.8,1.8,3.7,1.4,
];
const l_insula = [
  2.0,3.9,1.6,3.4,1.3,4.1,1.8,3.2,1.4,3.8,2.1,3.5,1.2,4.0,1.7,3.0,1.5,3.7,1.9,3.3,1.3,4.2,1.6,3.6,1.4,3.1,2.0,3.9,1.5,3.4,
  1.2,3.8,1.8,3.2,1.4,4.0,1.7,3.5,1.3,3.7,2.0,3.1,1.5,4.1,1.6,3.3,1.2,3.9,1.9,3.4,1.4,3.6,1.7,4.2,1.3,3.2,1.8,3.8,1.5,3.5,
  1.2,4.0,1.9,3.0,1.4,3.7,1.6,3.4,1.3,4.1,2.0,3.6,1.5,3.2,1.7,3.9,1.2,3.5,1.8,4.2,1.4,3.3,1.6,3.8,1.3,3.1,1.9,4.0,1.5,3.6,
  1.2,3.4,1.7,3.9,1.4,3.2,1.8,4.1,1.3,3.7,2.0,3.5,1.5,3.0,1.6,4.2,1.2,3.8,1.9,3.3,1.4,3.6,1.7,4.0,1.3,3.1,1.8,3.9,1.5,3.4,
  1.2,3.7,2.0,3.2,1.4,4.1,1.6,3.5,1.3,3.8,1.9,3.0,1.5,4.2,1.7,3.6,1.2,3.3,1.8,3.9,1.4,3.5,1.6,4.0,1.3,3.2,2.0,3.8,1.5,3.4,
  1.2,3.9,1.7,3.3,1.4,3.6,1.8,3.1,1.3,4.0,1.6,
];

const R_SERIES: number[][] = [
  r_lateralorbitofrontal, r_parsorbitalis, r_frontalpole, r_medialorbitofrontal, r_parstriangularis,
  r_parsopercularis, r_rostralmiddlefrontal, r_superiorfrontal, r_caudalmiddlefrontal, r_precentral,
  r_paracentral, r_rostralanteriorcingulate, r_caudalanteriorcingulate, r_posteriorcingulate, r_isthmuscingulate,
  r_postcentral, r_supramarginal, r_superiorparietal, r_inferiorparietal, r_precuneus,
  r_cuneus, r_pericalcarine, r_lateraloccipital, r_lingual, r_fusiform,
  r_parahippocampal, r_entorhinal, r_temporalpole, r_inferiortemporal, r_middletemporal,
  r_bankssts, r_superiortemporal, r_transversetemporal, r_insula,
];
const L_SERIES: (number[] | [number, number][])[] = [
  l_lateralorbitofrontal, l_parsorbitalis, l_frontalpole, l_medialorbitofrontal, l_parstriangularis,
  l_parsopercularis, l_rostralmiddlefrontal, l_superiorfrontal, l_caudalmiddlefrontal, l_precentral,
  l_paracentral, l_rostralanteriorcingulate, l_caudalanteriorcingulate, l_posteriorcingulate, l_isthmuscingulate,
  l_postcentral, l_supramarginal, l_superiorparietal, l_inferiorparietal, l_precuneus,
  l_cuneus, l_pericalcarine, l_lateraloccipital, l_lingual, l_fusiform,
  l_parahippocampal, l_entorhinal, l_temporalpole, l_inferiortemporal, l_middletemporal,
  l_bankssts, l_superiortemporal, l_transversetemporal, l_insula,
];

const FONT = "'DejaVu Sans', 'Liberation Sans', sans-serif";

function toPoints(series: number[] | [number, number][]) {
  if (series.length && Array.isArray(series[0])) {
    return (series as [number, number][]).map(([x, y]) => ({ x, y }));
  }
  const vals = series as number[];
  const step = DURATION_MS / (vals.length - 1);
  return vals.map((y, k) => ({ x: k * step, y }));
}

const legendPlugin = {
  id: "boxLegend",
  afterDraw(chart: any) {
    const ctx = chart.ctx as CanvasRenderingContext2D;
    const { left, right, top, bottom } = chart.chartArea;
    ctx.save();
    // axes frame (spines)
    ctx.strokeStyle = "#000";
    ctx.lineWidth = 1.1;
    ctx.strokeRect(left, top, right - left, bottom - top);

    // legend box
    const bx = 507.5, by = 18.5, bw = 529, bh = 985, r = 4;
    ctx.beginPath();
    ctx.moveTo(bx + r, by);
    ctx.lineTo(bx + bw - r, by);
    ctx.quadraticCurveTo(bx + bw, by, bx + bw, by + r);
    ctx.lineTo(bx + bw, by + bh - r);
    ctx.quadraticCurveTo(bx + bw, by + bh, bx + bw - r, by + bh);
    ctx.lineTo(bx + r, by + bh);
    ctx.quadraticCurveTo(bx, by + bh, bx, by + bh - r);
    ctx.lineTo(bx, by + r);
    ctx.quadraticCurveTo(bx, by, bx + r, by);
    ctx.closePath();
    ctx.fillStyle = "rgba(255,255,255,0.8)";
    ctx.fill();
    ctx.strokeStyle = "#cccccc";
    ctx.lineWidth = 1;
    ctx.stroke();

    const n = chart.data.datasets.length;
    const perCol = Math.ceil(n / 2);
    ctx.font = `17px ${FONT}`;
    ctx.textBaseline = "middle";
    ctx.textAlign = "left";
    chart.data.datasets.forEach((ds: any, i: number) => {
      const col = i < perCol ? 0 : 1;
      const row = i % perCol;
      const y = 32 + row * 29.06;
      const lx = col ? 775 : 509;
      ctx.strokeStyle = ds.borderColor;
      ctx.lineWidth = 2;
      ctx.beginPath();
      ctx.moveTo(lx, y);
      ctx.lineTo(lx + 35, y);
      ctx.stroke();
      ctx.fillStyle = "#000";
      ctx.fillText(ds.label, lx + 40, y + 1);
    });
    ctx.restore();
  },
};

export default function App() {
  const ref = useRef<HTMLCanvasElement | null>(null);

  useEffect(() => {
    if (!ref.current) return;
    const names = [...R_NAMES, ...L_NAMES];
    const colors = [...R_COLORS, ...L_COLORS];
    const series = [...R_SERIES, ...L_SERIES];
    const N = names.length;
    const datasets = names.map((name, i) => ({
      label: name,
      data: toPoints(series[i]),
      borderColor: colors[i],
      backgroundColor: colors[i],
      borderWidth: 2,
      pointRadius: 0,
      pointHoverRadius: 0,
      tension: 0,
      fill: false,
      order: N - i,
    }));

    const tickFont = { family: FONT, size: 21 };
    const titleFont = { family: FONT, size: 21.5 };
    const chart = new Chart(ref.current, {
      type: "line",
      data: { datasets },
      options: {
        animation: false,
        responsive: true,
        maintainAspectRatio: false,
        parsing: false as any,
        normalized: true,
        events: [],
        layout: { padding: { left: 0, right: 545, top: 18, bottom: 0 } },
        plugins: { legend: { display: false }, tooltip: { enabled: false } },
        scales: {
          x: {
            type: "linear",
            min: 0,
            max: DURATION_MS,
            afterBuildTicks: (s: any) => {
              s.ticks = X_TICKS.map((v) => ({ value: v }));
            },
            afterFit: (s: any) => {
              s.height = 68;
            },
            ticks: {
              color: "#000",
              font: tickFont,
              padding: 6,
              maxRotation: 0,
              autoSkip: false,
              callback: (v: any) => String(v),
            },
            grid: { drawOnChartArea: false, drawTicks: true, tickLength: 5, color: "#000", lineWidth: 1.1 },
            border: { display: true, color: "#000", width: 1.1 },
            title: {
              display: true,
              text: "time in ms",
              color: "#000",
              font: titleFont,
              padding: { top: 2, bottom: 0 },
            },
          },
          y: {
            type: "linear",
            min: 0,
            max: 200,
            afterBuildTicks: (s: any) => {
              s.ticks = Y_TICKS.map((v) => ({ value: v }));
            },
            afterFit: (s: any) => {
              s.width = 100;
            },
            ticks: {
              color: "#000",
              font: tickFont,
              padding: 9,
              autoSkip: false,
              callback: (v: any) => String(v),
            },
            grid: { drawOnChartArea: false, drawTicks: true, tickLength: 5, color: "#000", lineWidth: 1.1 },
            border: { display: true, color: "#000", width: 1.1 },
            title: {
              display: true,
              text: "frequency of excitatory population in Hz",
              color: "#000",
              font: titleFont,
              padding: { top: 14, bottom: 0 },
            },
          },
        },
      },
      plugins: [legendPlugin],
    });
    return () => chart.destroy();
  }, []);

  return (
    <div
      style={{
        position: "fixed",
        left: 0,
        top: 0,
        width: 1045,
        height: 1059,
        background: "#fff",
      }}
    >
      <canvas ref={ref} />
    </div>
  );
}
